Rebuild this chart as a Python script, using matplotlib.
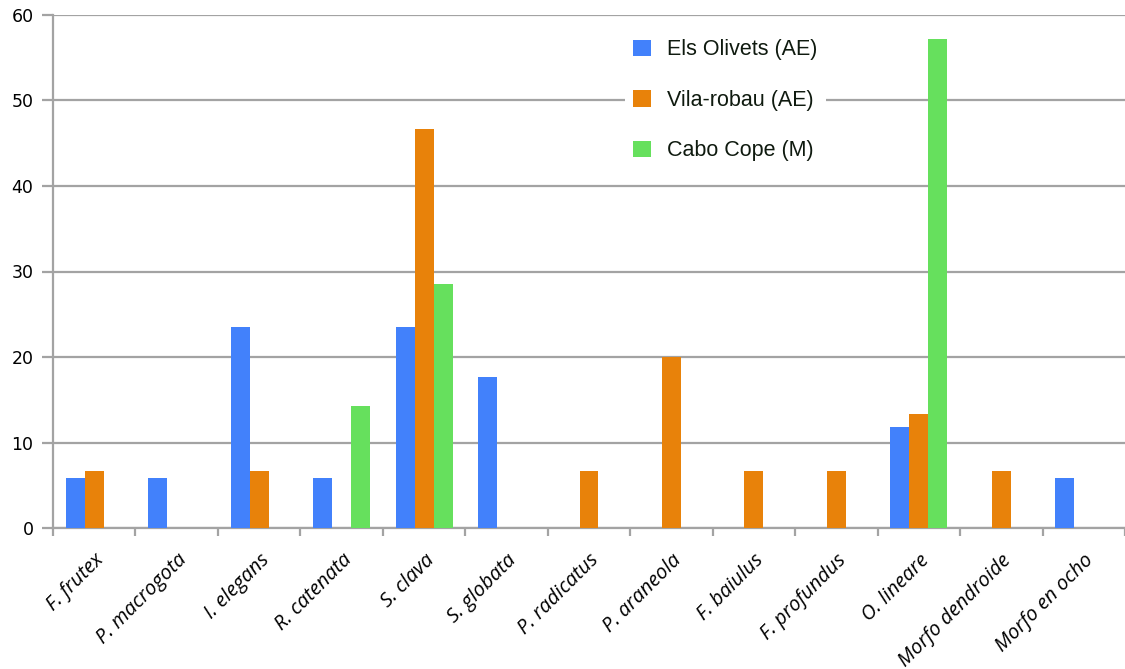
import matplotlib
matplotlib.use("Agg")
import matplotlib.pyplot as plt
import matplotlib.transforms as mtransforms
import numpy as np
from matplotlib.patches import Patch

species = ["F. frutex", "P. macrogota", "I. elegans", "R. catenata", "S. clava",
           "S. globata", "P. radicatus", "P. araneola", "F. baiulus", "F. profundus",
           "O. lineare", "Morfo dendroide", "Morfo en ocho"]
els_olivets = [5.88, 5.88, 23.53, 5.88, 23.53, 17.65, 0, 0, 0, 0, 11.76, 0, 5.88]
vila_robau = [6.67, 0, 6.67, 0, 46.67, 0, 6.67, 20.0, 6.67, 6.67, 13.33, 6.67, 0]
cabo_cope = [0, 0, 0, 14.29, 28.57, 0, 0, 0, 0, 0, 57.14, 0, 0]
series_names = ["Els Olivets (AE)", "Vila-robau (AE)", "Cabo Cope (M)"]
y_ticks = [0, 10, 20, 30, 40, 50, 60]

colors = ["#4281FB", "#E8820A", "#66E05D"]
grid_c = "#A3A3A3"

fig = plt.figure(figsize=(11.25, 6.69), dpi=100)
ax = fig.add_axes([53 / 1125, 1 - 528 / 669, 1 - 53 / 1125, (528 - 15) / 669])

x = np.arange(len(species))
w = 0.23
for i, (vals, c) in enumerate(zip([els_olivets, vila_robau, cabo_cope], colors)):
    ax.bar(x + (i - 1) * w, vals, width=w, color=c, zorder=3, linewidth=0)

ax.set_xlim(-0.5, len(species) - 0.5)
ax.set_ylim(0, 60)
ax.set_yticks(y_ticks)
ax.set_yticklabels([str(t) for t in y_ticks], fontsize=12.5, family="DejaVu Sans")
ax.yaxis.grid(True, color=grid_c, linewidth=1.6, zorder=0)
ax.set_axisbelow(True)

# category boundaries carry the x tick marks
ax.set_xticks(np.arange(len(species) + 1) - 0.5)
ax.set_xticklabels([])
ax.set_xticks(x, minor=True)
ax.set_xticklabels(species, minor=True, rotation=45, ha="right", va="top",
                   rotation_mode="anchor", fontsize=14.5,
                   family="Open Sans", style="italic")
shift = mtransforms.ScaledTranslation(-6 / 100, 0, fig.dpi_scale_trans)
for lab in ax.get_xticklabels(minor=True):
    lab.set_transform(lab.get_transform() + shift)
ax.tick_params(axis="x", which="major", length=6, width=1.6, color=grid_c)
ax.tick_params(axis="x", which="minor", length=0, pad=16)
ax.tick_params(axis="y", length=8, width=1.6, color=grid_c, pad=6)

for s in ["top", "right"]:
    ax.spines[s].set_visible(False)
for s in ["left", "bottom"]:
    ax.spines[s].set_color(grid_c)
    ax.spines[s].set_linewidth(1.6)

handles = [Patch(facecolor=c, edgecolor="none") for c in colors]
leg = ax.legend(handles, series_names, loc="upper left",
                bbox_to_anchor=(614 / 1125, 1 - 20 / 669),
                bbox_transform=fig.transFigure,
                prop={"family": "Liberation Sans", "size": 15.5},
                handlelength=0.8, handleheight=0.8, handletextpad=0.75,
                labelspacing=1.37, borderpad=0.4, frameon=True,
                fancybox=False, framealpha=1)
leg.get_frame().set_facecolor("white")
leg.get_frame().set_edgecolor("none")
for t in leg.get_texts():
    t.set_color("#0F1A0F")

fig.savefig("out.png", dpi=100)
